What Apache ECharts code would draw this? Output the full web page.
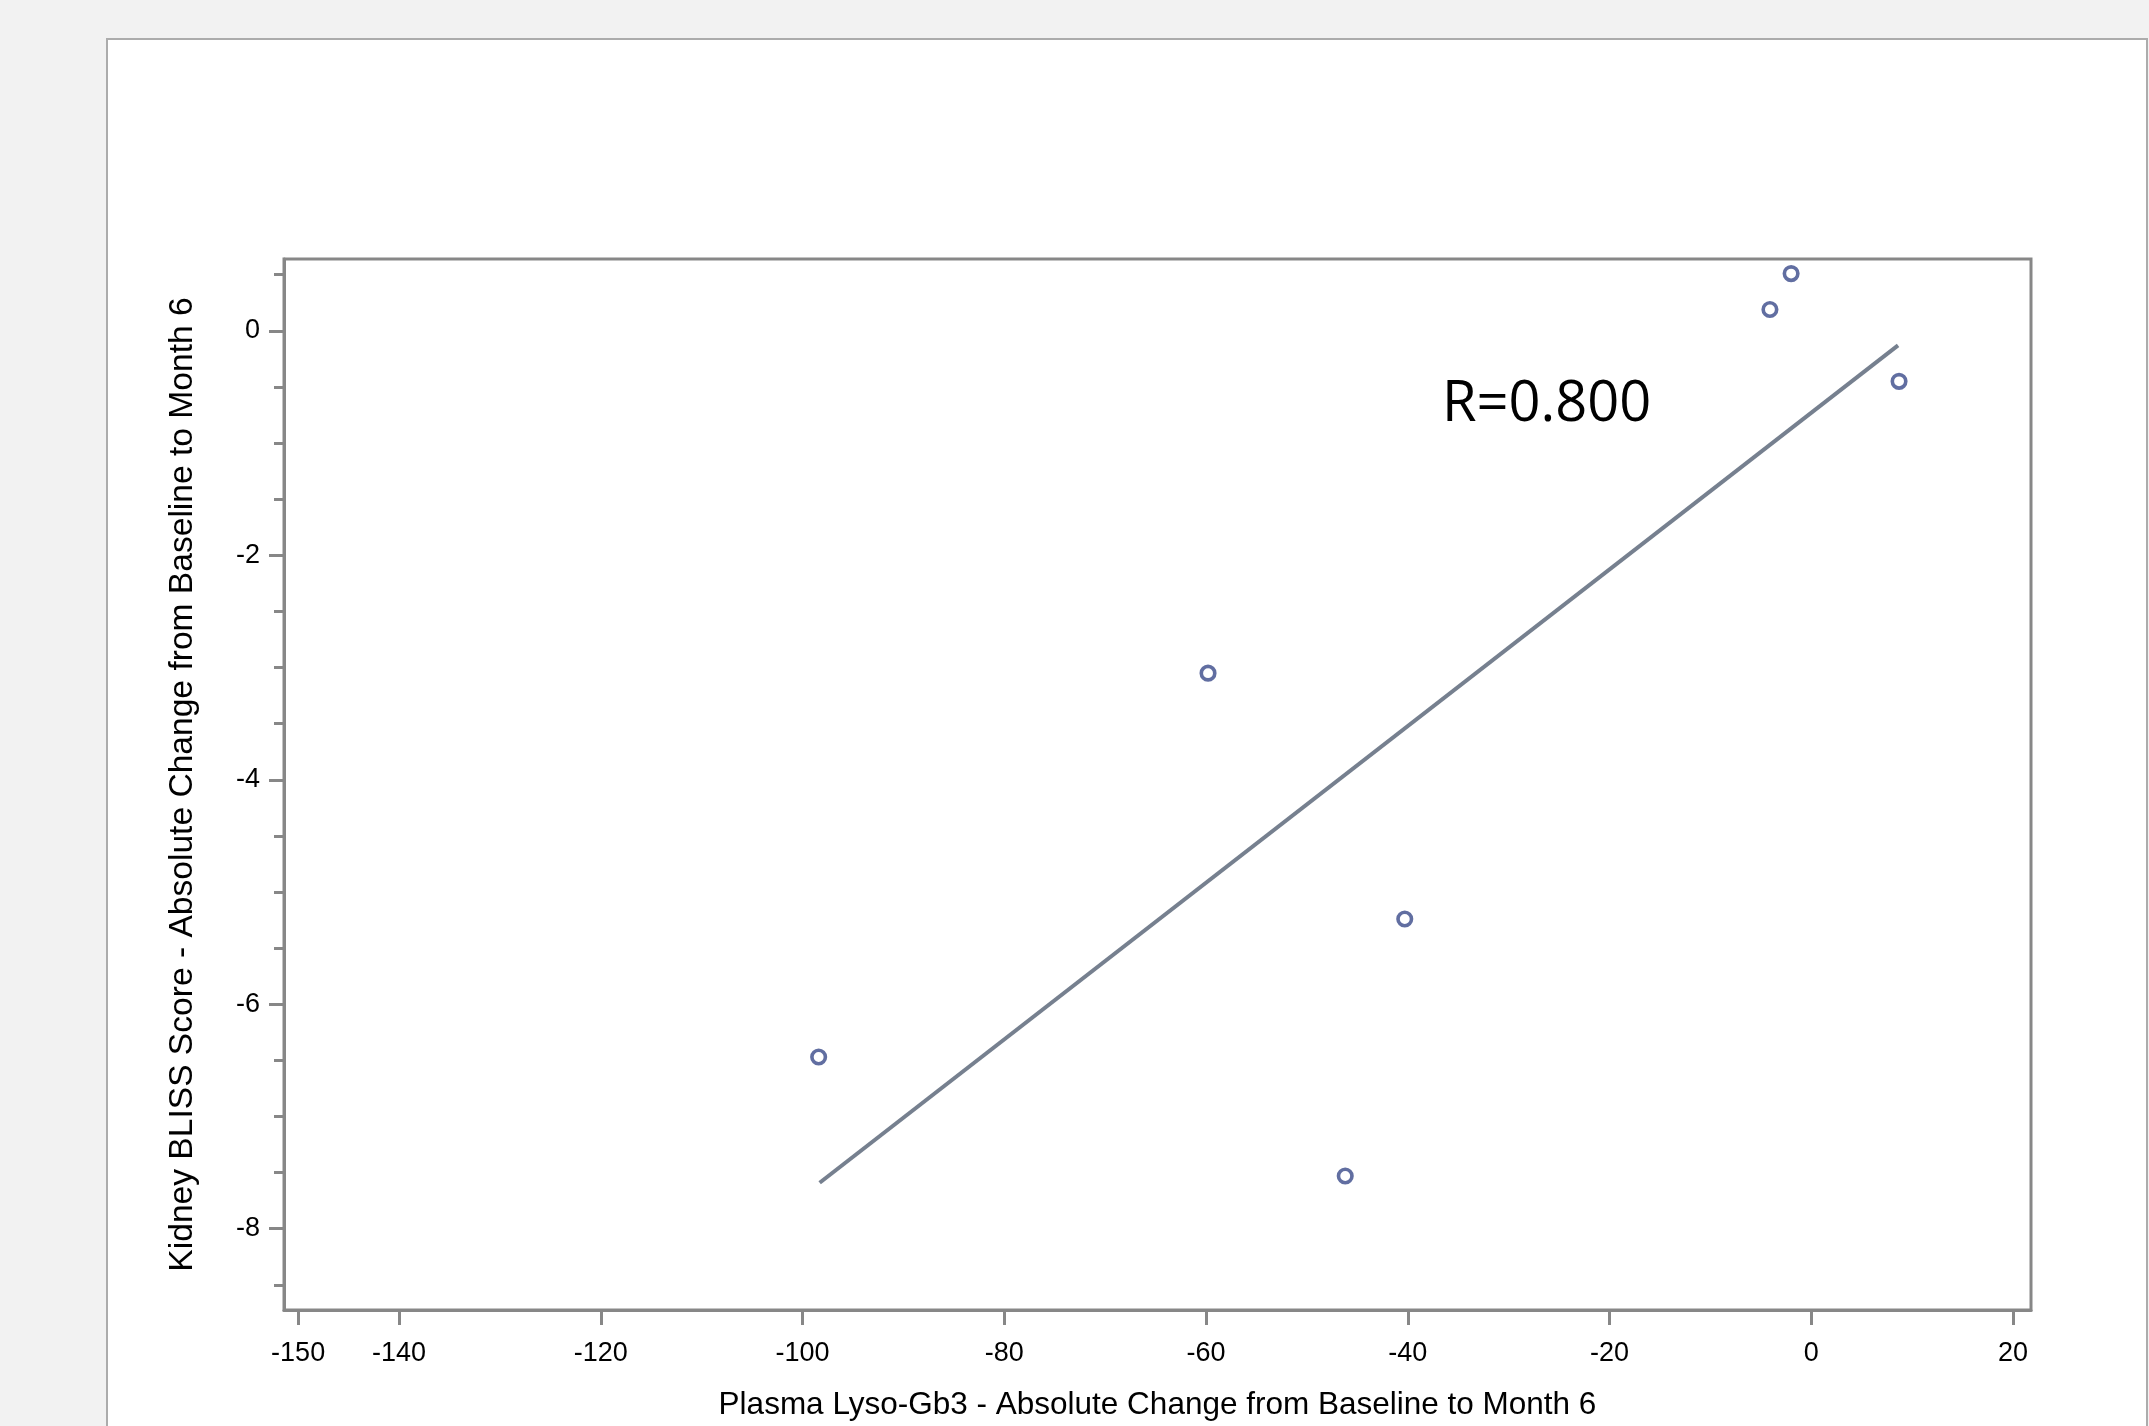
<!DOCTYPE html>
<html><head><meta charset="utf-8">
<script src="https://cdn.jsdelivr.net/npm/echarts@6/dist/echarts.min.js"></script>
<style>html,body{margin:0;padding:0;background:#f2f2f2;} #c{width:2149px;height:1426px;}</style>
</head><body><div id="c"></div>
<script>
// Data
const lysoChange  = [-98.4, -59.8, -40.3, -46.2, -4.1, -2.0, 8.7];
const blissChange = [-6.47, -3.05, -5.24, -7.53, 0.19, 0.51, -0.45];
const fitX = [-98.3, 8.6];
const fitY = [-7.59, -0.13];
const xTickValues = [-150, -140, -120, -100, -80, -60, -40, -20, 0, 20];
const yTickValues = [-8, -6, -4, -2, 0];
const yMinorTickValues = [-8.5, -7.5, -7, -6.5, -5.5, -5, -4.5, -3.5, -3, -2.5, -1.5, -1, -0.5, 0.5];
const xTitle = 'Plasma Lyso-Gb3 - Absolute Change from Baseline to Month 6';
const yTitle = 'Kidney BLISS Score - Absolute Change from Baseline to Month 6';
const annotation = 'R=0.800';

const points = lysoChange.map((x, i) => [x, blissChange[i]]);
const fitLine = fitX.map((x, i) => [x, fitY[i]]);

const axisColor = '#878787';
const font = "'Liberation Sans', Arial, sans-serif";

const chart = echarts.init(document.getElementById('c'), null, {renderer: 'canvas'});
chart.setOption({
  backgroundColor: '#f2f2f2',
  animation: false,
  graphic: [
    {type: 'rect', z: -100, shape: {x: 107, y: 39, width: 2040, height: 1500},
     style: {fill: '#ffffff', stroke: '#acacac', lineWidth: 2}},
    {type: 'text', z: 100, left: 1442, top: 377,
     style: {text: annotation, fontFamily: "'Open Sans', 'Noto Sans', sans-serif", fontSize: 56, fill: '#000'}}
  ],
  grid: {left: 284, top: 259, width: 1747, height: 1054, show: true,
         borderColor: axisColor, borderWidth: 3, backgroundColor: 'transparent'},
  xAxis: {
    type: 'value', min: -151.4, max: 21.78,
    splitLine: {show: false},
    axisLine: {show: true, onZero: false, lineStyle: {color: axisColor, width: 3}},
    axisTick: {show: true, length: 15, lineStyle: {color: axisColor, width: 3}, customValues: xTickValues},
    axisLabel: {customValues: xTickValues, color: '#000', fontFamily: font, fontSize: 27, margin: 30},
    name: xTitle, nameLocation: 'middle', nameGap: 79,
    nameTextStyle: {color: '#000', fontFamily: font, fontSize: 31.5}
  },
  yAxis: [{
    type: 'value', min: -8.724, max: 0.64,
    splitLine: {show: false},
    axisLine: {show: true, onZero: false, lineStyle: {color: axisColor, width: 3}},
    axisTick: {show: true, length: 15, lineStyle: {color: axisColor, width: 3}, customValues: yTickValues},
    axisLabel: {customValues: yTickValues, color: '#000', fontFamily: font, fontSize: 27, margin: 24},
    name: yTitle, nameLocation: 'middle', nameGap: 84, nameRotate: 90,
    nameTextStyle: {color: '#000', fontFamily: font, fontSize: 33.6}
  }, {
    type: 'value', min: -8.724, max: 0.64, position: 'left', offset: 0,
    splitLine: {show: false},
    axisLine: {show: false, onZero: false},
    axisTick: {show: true, length: 10, lineStyle: {color: axisColor, width: 3}, customValues: yMinorTickValues},
    axisLabel: {show: false}
  }],
  series: [{
    type: 'line', data: fitLine, symbol: 'none', z: 3,
    lineStyle: {color: '#76808f', width: 4}
  }, {
    type: 'scatter', data: points, symbol: 'circle', symbolSize: 13.5, z: 4,
    itemStyle: {color: 'rgba(255,255,255,0)', borderColor: '#3a4a8a', borderWidth: 3.6}
  }]
});
</script></body></html>
